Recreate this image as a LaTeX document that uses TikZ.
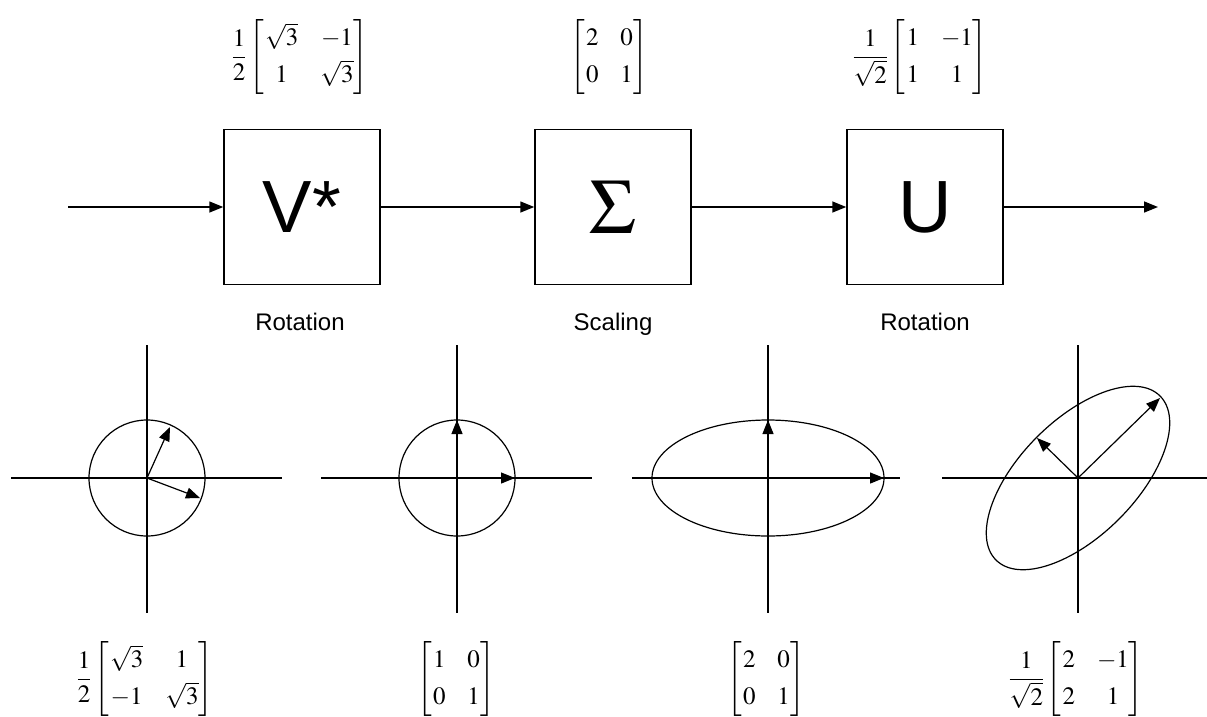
\documentclass[tikz,border=0pt]{standalone}
\usepackage{amsmath}
\usepackage{mathptmx}
\usepackage[no-math]{fontspec}
\setmainfont{Liberation Sans}
\usetikzlibrary{arrows.meta}
\renewcommand\arraystretch{1.28}
\delimitershortfall=14pt
\newcommand\mymat[4]{\left[\begin{array}{@{\hspace{1pt}}c@{\hspace{22pt}}c@{\hspace{0pt}}}#1&#2\\#3&#4\end{array}\right]}
\begin{document}
\begin{tikzpicture}[x=1pt,y=-1pt, line width=1.5pt,
  blk/.style={draw, minimum width=156pt, minimum height=155pt, inner sep=0pt, font=\fontsize{74}{80}\selectfont},
  lbl/.style={font=\fontsize{24}{28}\selectfont, anchor=base, inner sep=0pt},
  mat/.style={font=\fontsize{25}{29}\selectfont, inner sep=0pt},
  flow/.style={-{Triangle[length=14pt,width=11pt]}},
  axisline/.style={line width=1.6pt},
  curve/.style={line width=1.2pt},
  vec/.style={line width=1.2pt, -{Triangle[length=14pt,width=11pt]}}]
\useasboundingbox (0,0) rectangle (1207,716);
% block diagram
\node[blk] (V) at (302,207) {V*};
\node[blk] (S) at (613,207) {\fontsize{78}{80}\selectfont$\Sigma$};
\node[blk] (U) at (925,207) {U};
\coordinate (in) at (68,207);
\coordinate (out) at (1158,207);
\draw[flow] (in) -- (V);
\draw[flow] (V) -- (S);
\draw[flow] (S) -- (U);
\draw[flow] (U) -- (out);
\node[lbl] (l1) at (300,330) {Rotation};
\node[lbl] (l2) at (613,330) {Scaling};
\node[lbl] (l3) at (925,330) {Rotation};
% top matrices
\node[mat] (m1) at (300,57) {$\displaystyle\frac{1}{2}\mymat{\sqrt3}{-1}{1}{\sqrt3}$};
\node[mat] (m2) at (609,57) {$\displaystyle\mymat{2}{0}{0}{1}$};
\node[mat] (m3) at (920,57) {$\displaystyle\frac{1}{\sqrt2}\mymat{1}{-1}{1}{1}$};
% bottom matrices
\node[mat] (b1) at (145,679) {$\displaystyle\frac{1}{2}\mymat{\sqrt3}{1}{-1}{\sqrt3}$};
\node[mat] (b2) at (456,679) {$\displaystyle\mymat{1}{0}{0}{1}$};
\node[mat] (b3) at (766,679) {$\displaystyle\mymat{2}{0}{0}{1}$};
\node[mat] (b4) at (1076,679) {$\displaystyle\frac{1}{\sqrt2}\mymat{2}{-1}{2}{1}$};
% plot 1
\coordinate (c1) at (147,478);
\draw[axisline] (147,345) -- (147,613);
\draw[axisline] (11,478) -- (282,478);
\draw[curve] (c1) circle[radius=58];
\draw[vec] (c1) -- (170,427);
\draw[vec] (c1) -- (200,498);
% plot 2
\coordinate (c2) at (457,478);
\draw[axisline] (457,345) -- (457,613);
\draw[axisline] (321,478) -- (592,478);
\draw[curve] (c2) circle[radius=58];
\draw[vec] (c2) -- (457,420);
\draw[vec] (c2) -- (515,478);
% plot 3
\coordinate (c3) at (768,478);
\draw[axisline] (768,345) -- (768,613);
\draw[axisline] (632,478) -- (900,478);
\draw[curve] (c3) ellipse[x radius=116, y radius=58];
\draw[vec] (c3) -- (768,420);
\draw[vec] (c3) -- (884,478);
% plot 4
\coordinate (c4) at (1078,478);
\draw[axisline] (1078,345) -- (1078,613);
\draw[axisline] (942,478) -- (1207,478);
\draw[curve, rotate around={45:(c4)}] (c4) ellipse[x radius=116, y radius=58];
\draw[vec] (c4) -- (1160,398);
\draw[vec] (c4) -- (1037,438);
\end{tikzpicture}
\end{document}
